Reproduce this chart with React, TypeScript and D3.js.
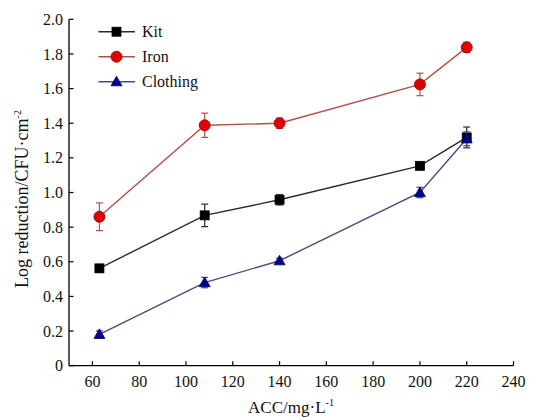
import React from "react";
import * as d3 from "d3";

const xValues = [63, 108, 140, 200, 220];
const kitValues = [0.562, 0.868, 0.958, 1.154, 1.318];
const kitErrors = [0.01, 0.065, 0.03, 0.01, 0.06];
const ironValues = [0.86, 1.388, 1.4, 1.624, 1.838];
const ironErrors = [0.08, 0.07, 0.03, 0.065, 0.03];
const clothingValues = [0.181, 0.48, 0.606, 1.0, 1.31];
const clothingErrors = [0.02, 0.03, 0.015, 0.03, 0.04];
const xTicks = [60, 80, 100, 120, 140, 160, 180, 200, 220, 240];
const yTicks = [0, 0.2, 0.4, 0.6, 0.8, 1.0, 1.2, 1.4, 1.6, 1.8, 2.0];
const seriesNames = ["Kit", "Iron", "Clothing"];

const W = 534;
const H = 418;
const FONT = "Liberation Serif";

type Series = {
  name: string;
  values: number[];
  errors: number[];
  line: string;
  fill: string;
  stroke: string;
  shape: "square" | "circle" | "triangle";
};

const series: Series[] = [
  { name: seriesNames[0], values: kitValues, errors: kitErrors, line: "#2a2a2a", fill: "#000000", stroke: "#000000", shape: "square" },
  { name: seriesNames[1], values: ironValues, errors: ironErrors, line: "#b0504a", fill: "#e00000", stroke: "#a01010", shape: "circle" },
  { name: seriesNames[2], values: clothingValues, errors: clothingErrors, line: "#4a4a80", fill: "#00008b", stroke: "#00006a", shape: "triangle" },
];

function Marker({ s, x, y }: { s: Series; x: number; y: number }) {
  if (s.shape === "square") {
    return <rect x={x - 4.5} y={y - 4.5} width={9} height={9} fill={s.fill} stroke={s.stroke} strokeWidth={0.8} />;
  }
  if (s.shape === "circle") {
    return <circle cx={x} cy={y} r={5.5} fill={s.fill} stroke={s.stroke} strokeWidth={1} />;
  }
  const sz = 5.5;
  return (
    <path
      d={`M${x},${y - sz} L${x + sz},${y + sz * 0.75} L${x - sz},${y + sz * 0.75} Z`}
      fill={s.fill}
      stroke={s.stroke}
      strokeWidth={0.8}
    />
  );
}

const textStyle = { fontFamily: FONT };

export default function App() {
  const x = d3.scaleLinear().domain([50, 240]).range([69, 513.5]);
  const y = d3.scaleLinear().domain([0, 2]).range([365.7, 19.3]);
  const line = d3
    .line<[number, number]>()
    .x((d) => x(d[0]))
    .y((d) => y(d[1]));

  const x0 = x(50);
  const y0 = y(0);

  return (
    <svg width={W} height={H} style={{ position: "absolute", left: 0, top: 0, background: "#fff" }}>
      <line x1={x0} x2={x0} y1={y(2)} y2={y0} stroke="#000" strokeWidth={1.3} />
      <line x1={x0} x2={x(240)} y1={y0} y2={y0} stroke="#000" strokeWidth={1.3} />
      {yTicks.map((t) => (
        <g key={"y" + t}>
          <line x1={x0} x2={x0 + 4.5} y1={y(t)} y2={y(t)} stroke="#000" strokeWidth={1.2} />
          <text x={x0 - 6} y={y(t)} dy="0.35em" textAnchor="end" fontSize={16} fill="#111" style={textStyle}>
            {t === 0 ? "0" : t.toFixed(1)}
          </text>
        </g>
      ))}
      {xTicks.map((t) => (
        <g key={"x" + t}>
          <line x1={x(t)} x2={x(t)} y1={y0} y2={y0 - 4.5} stroke="#000" strokeWidth={1.2} />
          <text x={x(t)} y={y0 + 21} textAnchor="middle" fontSize={16} fill="#111" style={textStyle}>
            {t}
          </text>
        </g>
      ))}
      <text x={291} y={413} textAnchor="middle" fontSize={17} fill="#111" style={textStyle}>
        ACC/mg·L<tspan dy={-7} fontSize={10}>-1</tspan>
      </text>
      <text transform={`translate(28,${199}) rotate(-90)`} textAnchor="middle" fontSize={18} fill="#111" style={textStyle}>
        Log reduction/CFU·cm<tspan dy={-7} fontSize={10}>-2</tspan>
      </text>

      {series.map((s) => {
        const pts = xValues.map((xv, i) => [xv, s.values[i]] as [number, number]);
        return (
          <g key={s.name}>
            <path d={line(pts) || ""} fill="none" stroke={s.line} strokeWidth={1.4} />
            {pts.map((p, i) => {
              const e = s.errors[i];
              const cx = x(p[0]);
              return (
                <g key={i}>
                  <line x1={cx} x2={cx} y1={y(p[1] + e)} y2={y(p[1] - e)} stroke={s.line} strokeWidth={1.2} />
                  <line x1={cx - 3.5} x2={cx + 3.5} y1={y(p[1] + e)} y2={y(p[1] + e)} stroke={s.line} strokeWidth={1.2} />
                  <line x1={cx - 3.5} x2={cx + 3.5} y1={y(p[1] - e)} y2={y(p[1] - e)} stroke={s.line} strokeWidth={1.2} />
                </g>
              );
            })}
            {pts.map((p, i) => (
              <Marker key={"m" + i} s={s} x={x(p[0])} y={y(p[1])} />
            ))}
          </g>
        );
      })}

      {series.map((s, i) => {
        const ly = 31.7 + i * 25;
        return (
          <g key={"lg" + s.name}>
            <line x1={98.5} x2={135} y1={ly} y2={ly} stroke={s.line} strokeWidth={1.4} />
            <Marker s={s} x={116.5} y={ly} />
            <text x={142} y={ly} dy="0.35em" fontSize={16} fill="#111" style={textStyle}>
              {s.name}
            </text>
          </g>
        );
      })}
    </svg>
  );
}
